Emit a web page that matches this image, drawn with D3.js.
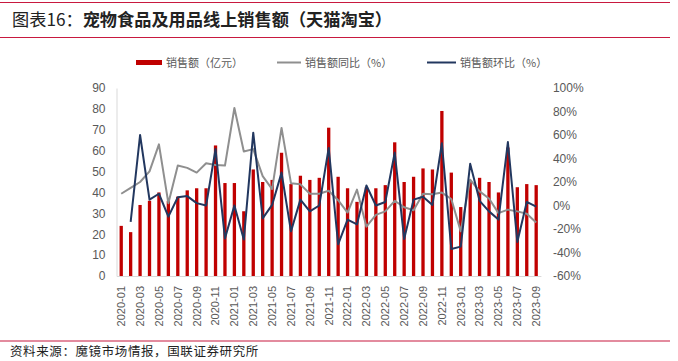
<!DOCTYPE html>
<html>
<head>
<meta charset="utf-8">
<script src="https://cdn.jsdelivr.net/npm/d3@7"></script>
<style>
  html, body { margin: 0; padding: 0; background: #fff; }
  svg { display: block; }
  text { font-family: "Noto Sans CJK SC", "Noto Sans", sans-serif; }
  .tick-num { font-family: "Liberation Sans", "Noto Sans", sans-serif; }
</style>
</head>
<body>
<svg id="chart" width="678" height="361"></svg>
<script>
// months 2020-01 .. 2023-09
var months = [
    '2020-01','2020-02','2020-03','2020-04','2020-05','2020-06','2020-07','2020-08','2020-09','2020-10','2020-11','2020-12',
    '2021-01','2021-02','2021-03','2021-04','2021-05','2021-06','2021-07','2021-08','2021-09','2021-10','2021-11','2021-12',
    '2022-01','2022-02','2022-03','2022-04','2022-05','2022-06','2022-07','2022-08','2022-09','2022-10','2022-11','2022-12',
    '2023-01','2023-02','2023-03','2023-04','2023-05','2023-06','2023-07','2023-08','2023-09'
];

// 销售额（亿元）
var sales = [
    24, 21, 34, 36, 40, 36, 38, 41, 42, 42, 62.5, 44.5,
    44.5, 31, 51, 45, 46, 59, 44, 48, 46, 47, 71, 47.5,
    42, 35.5, 42.5, 42, 43.5, 64, 45, 47.5, 51.5, 51, 79, 49.5,
    33, 45, 47, 45, 40, 61.5, 42.5, 44, 43.5
];

// 销售额同比（%）
var yoy = [
    10, 15, 20, 29, 52, 2, 34, 32, 28, 36, 34.5, 34,
    83, 46, 48, 25, 14, 66, 19, 18, 10, 10, 12.5, 4.5,
    -6, 13.5, -18, -8, -5, 4, -1.5, -4, 10, 9.5, 11, 5.5,
    -22, 22, 12, 6, -6.5, -3.5, -5, -7, -14.5
];

// 销售额环比（%）, first month has no value
var mom = [
    null, -14, 60, 5, 10, -9.5, 7, 8, 2, 0, 48, -28,
    0, -29, 62, -11, 0.5, 28, -22, 5, -5, 0, 49, -33,
    -12, -16, 17, 0, 3, 45, -28.5, 5, 7.5, 0.5, 53, -37,
    -35, 35.5, 4, -5, -12, 54, -31, 3, -1
];

var leftTicks = [0, 10, 20, 30, 40, 50, 60, 70, 80, 90];
var rightTicks = [-60, -40, -20, 0, 20, 40, 60, 80, 100];

var svg = d3.select('#chart');
var red = '#c00000', grey = '#8f8f8f', navy = '#22375f', rule = '#c8193f';

var x = d3.scaleBand().domain(months).range([116.5, 540.9])
    .paddingInner(0.65).paddingOuter(0.325);
var yL = d3.scaleLinear().domain([0, 90]).range([276, 88]);
var yR = d3.scaleLinear().domain([-60, 100]).range([276, 88]);

function cx(d) { return x(d) + x.bandwidth() / 2; }

// title block
svg.append('line').attr('x1', 0).attr('x2', 670).attr('y1', 2.5).attr('y2', 2.5)
    .attr('stroke', rule).attr('stroke-width', 1.2);
svg.append('line').attr('x1', 0).attr('x2', 670).attr('y1', 37.5).attr('y2', 37.5)
    .attr('stroke', rule).attr('stroke-width', 1.2);
var title = svg.append('text').attr('x', 12).attr('y', 26).attr('font-size', 17.2).attr('fill', '#222');
title.append('tspan').text('图表16：');
title.append('tspan').attr('font-weight', 'bold').text('宠物食品及用品线上销售额（天猫淘宝）');

// legend
var legend = svg.append('g').attr('font-size', 11).attr('fill', '#595959');
legend.append('rect').attr('x', 136).attr('y', 60).attr('width', 26).attr('height', 5).attr('fill', red);
legend.append('text').attr('x', 166).attr('y', 67).text('销售额（亿元）');
legend.append('line').attr('x1', 277).attr('x2', 301).attr('y1', 62.5).attr('y2', 62.5)
    .attr('stroke', grey).attr('stroke-width', 2);
legend.append('text').attr('x', 305).attr('y', 67).text('销售额同比（%）');
legend.append('line').attr('x1', 427).attr('x2', 456).attr('y1', 62.5).attr('y2', 62.5)
    .attr('stroke', navy).attr('stroke-width', 2);
legend.append('text').attr('x', 460).attr('y', 67).text('销售额环比（%）');

// axes
var axL = svg.append('g').attr('transform', 'translate(116.5,0)')
    .call(d3.axisLeft(yL).tickValues(leftTicks).tickSize(0).tickPadding(11));
axL.select('.domain').attr('stroke', '#d9d9d9');
axL.selectAll('text').attr('class', 'tick-num').attr('font-size', 12).attr('fill', '#595959');

var axR = svg.append('g').attr('transform', 'translate(540.9,0)')
    .call(d3.axisRight(yR).tickValues(rightTicks).tickSize(0).tickPadding(12)
        .tickFormat(function(d) { return d + '%'; }));
axR.select('.domain').remove();
axR.selectAll('text').attr('class', 'tick-num').attr('font-size', 12).attr('fill', '#595959');

var axB = svg.append('g').attr('transform', 'translate(0,276)')
    .call(d3.axisBottom(x).tickValues(months.filter(function(d, i) { return i % 2 === 0; }))
        .tickSize(0).tickPadding(0));
axB.select('.domain').attr('stroke', '#d9d9d9');
axB.selectAll('text')
    .attr('class', 'tick-num').attr('font-size', 11).attr('fill', '#595959')
    .attr('text-anchor', 'end').attr('dy', '0.35em')
    .attr('transform', 'translate(0,10) rotate(-90)');

// bars
svg.append('g').selectAll('rect').data(months).enter().append('rect')
    .attr('x', function(d) { return x(d); })
    .attr('width', x.bandwidth())
    .attr('y', function(d, i) { return yL(sales[i]); })
    .attr('height', function(d, i) { return yL(0) - yL(sales[i]); })
    .attr('fill', red);

// lines
var line = d3.line()
    .defined(function(d) { return d[1] !== null; })
    .x(function(d) { return cx(d[0]); })
    .y(function(d) { return yR(d[1]); });

svg.append('path').datum(months.map(function(m, i) { return [m, yoy[i]]; }))
    .attr('d', line).attr('fill', 'none').attr('stroke', grey).attr('stroke-width', 2)
    .attr('stroke-linejoin', 'round');
svg.append('path').datum(months.map(function(m, i) { return [m, mom[i]]; }))
    .attr('d', line).attr('fill', 'none').attr('stroke', navy).attr('stroke-width', 2)
    .attr('stroke-linejoin', 'round');

// source
svg.append('line').attr('x1', 0).attr('x2', 670).attr('y1', 341).attr('y2', 341)
    .attr('stroke', rule).attr('stroke-width', 1.2);
svg.append('text').attr('x', 10).attr('y', 356).attr('font-size', 12.5).attr('fill', '#222')
    .attr('letter-spacing', 0.6)
    .text('资料来源：魔镜市场情报，国联证券研究所');
</script>
</body>
</html>
